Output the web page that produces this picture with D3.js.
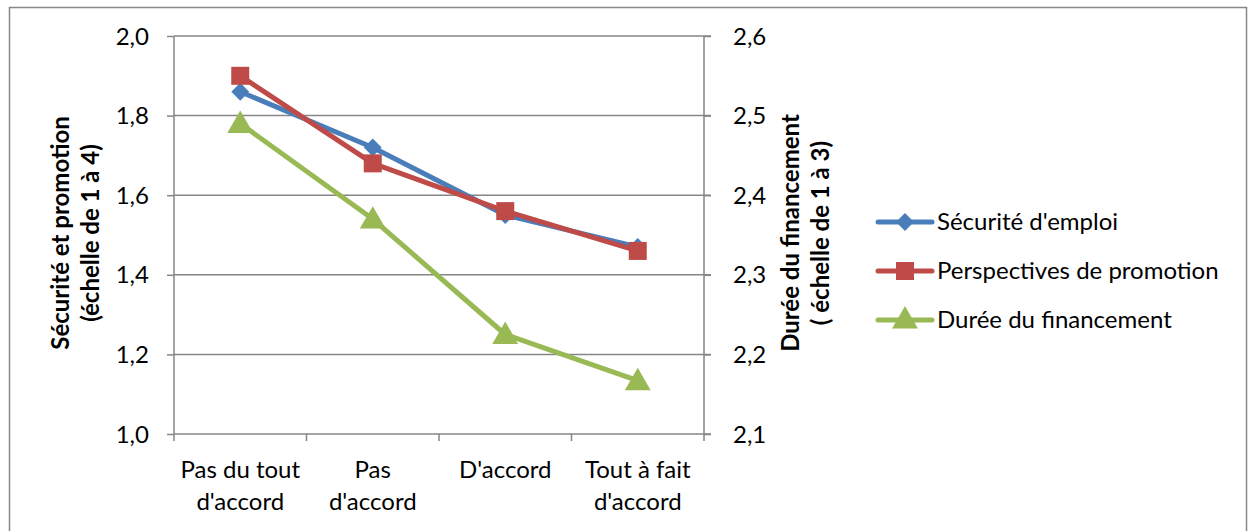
<!DOCTYPE html>
<html><head><meta charset="utf-8">
<script src="https://cdn.jsdelivr.net/npm/d3@7"></script>
<style>body{margin:0;background:#fff}svg{display:block}text{font-family:Lato,"Open Sans",sans-serif;fill:#000}</style>
</head><body><svg id="c" width="1250" height="531"></svg>
<script>
const categories = [["Pas du tout","d'accord"],["Pas","d'accord"],["D'accord"],["Tout à fait","d'accord"]];
const securite = [1.86, 1.72, 1.55, 1.47];
const promotion = [1.90, 1.68, 1.56, 1.46];
const duree = [2.49, 2.37, 2.225, 2.167];
const leftTicks = [1.0,1.2,1.4,1.6,1.8,2.0];
const rightTicks = [2.1,2.2,2.3,2.4,2.5,2.6];
const seriesNames = ["Sécurité d'emploi","Perspectives de promotion","Durée du financement"];

const FS = 24;
const svg = d3.select("#c");
const L=174,R=704,T=36,B=434;
const grid="#868686";
svg.append("rect").attr("x",9.5).attr("y",7.5).attr("width",1237).attr("height",540).attr("fill","none").attr("stroke","#888").attr("stroke-width",1.5);

const x = d3.scaleBand().domain(d3.range(categories.length)).range([L,R]);
const yL = d3.scaleLinear().domain([1.0,2.0]).range([B,T]);
const yR = d3.scaleLinear().domain([2.1,2.6]).range([B,T]);
const fmt = d => d.toFixed(1).replace(".",",");

svg.append("g").selectAll("line").data(leftTicks).join("line")
  .attr("x1",L).attr("x2",R+7).attr("y1",d=>yL(d)).attr("y2",d=>yL(d))
  .attr("stroke",grid).attr("stroke-width",1.5);

const gl = svg.append("g").attr("transform",`translate(${L},0)`).call(d3.axisLeft(yL).tickValues(leftTicks).tickFormat(fmt).tickSize(7).tickPadding(18));
const gr = svg.append("g").attr("transform",`translate(${R},0)`).call(d3.axisRight(yR).tickValues(rightTicks).tickFormat(fmt).tickSize(7).tickPadding(22));
[gl,gr].forEach(g=>{g.select(".domain").remove();g.selectAll("line").attr("stroke",grid).attr("stroke-width",1.5);g.selectAll("text").attr("font-size",FS).attr("font-family","Lato").attr("dy","0.34em");});
svg.append("g").selectAll("line").data(d3.range(categories.length+1)).join("line")
  .attr("x1",i=>L+i*x.bandwidth()).attr("x2",i=>L+i*x.bandwidth()).attr("y1",B).attr("y2",B+7)
  .attr("stroke",grid).attr("stroke-width",1.5);
svg.append("line").attr("x1",L).attr("x2",L).attr("y1",T).attr("y2",B).attr("stroke",grid).attr("stroke-width",1.5);
svg.append("line").attr("x1",R).attr("x2",R).attr("y1",T).attr("y2",B).attr("stroke",grid).attr("stroke-width",1.5);

const cl = svg.append("g").selectAll("text").data(categories).join("text")
  .attr("x",(d,i)=>x(i)+x.bandwidth()/2).attr("y",478).attr("text-anchor","middle").attr("font-size",FS);
cl.selectAll("tspan").data(d=>d).join("tspan").attr("x",function(){return this.parentNode.getAttribute("x");}).attr("dy",(d,i)=>i?32:0).text(d=>d);

function vtitle(cx,cy,lines){
  const t=svg.append("text").attr("transform",`translate(${cx},${cy}) rotate(-90)`).attr("text-anchor","middle").attr("font-size",FS).attr("font-weight","bold");
  lines.forEach((s,i)=>t.append("tspan").attr("x",0).attr("y",i*30).text(s));
}
vtitle(69,233,["Sécurité et promotion","(échelle de 1 à 4)"]);
vtitle(799,233,["Durée du financement","( échelle de 1 à 3)"]);

const colors=["#4A7EBB","#BE4B48","#98B954"];
const cx = i=>x(i)+x.bandwidth()/2;
const diamond = {draw(ctx,size){const r=Math.sqrt(size/2);ctx.moveTo(0,-r);ctx.lineTo(r,0);ctx.lineTo(0,r);ctx.lineTo(-r,0);ctx.closePath();}};
const series=[{v:securite,y:yL,c:colors[0],m:diamond,s:160,dy:0},
              {v:promotion,y:yL,c:colors[1],m:d3.symbolSquare,s:324,dy:0},
              {v:duree,y:yR,c:colors[2],m:d3.symbolTriangle,s:290,dy:2}];
series.forEach(sr=>{
  svg.append("path").datum(sr.v).attr("fill","none").attr("stroke",sr.c).attr("stroke-width",5).attr("stroke-linejoin","round")
    .attr("d",d3.line().x((d,i)=>cx(i)).y(d=>sr.y(d)));
});
series.forEach(sr=>{
  svg.append("g").selectAll("path").data(sr.v).join("path")
    .attr("transform",(d,i)=>`translate(${cx(i)},${sr.y(d)+sr.dy})`)
    .attr("d",d3.symbol().type(sr.m).size(sr.s)).attr("fill",sr.c);
});

const lg = svg.append("g");
series.forEach((sr,i)=>{
  const yy=222+i*49;
  lg.append("line").attr("x1",878).attr("x2",932).attr("y1",yy).attr("y2",yy).attr("stroke",sr.c).attr("stroke-width",5).attr("stroke-linecap","round");
  lg.append("path").attr("transform",`translate(905,${yy+sr.dy/2})`).attr("d",d3.symbol().type(sr.m).size(sr.s)).attr("fill",sr.c);
  lg.append("text").attr("x",937).attr("y",yy+8).attr("font-size",FS).text(seriesNames[i]);
});
</script></body></html>
